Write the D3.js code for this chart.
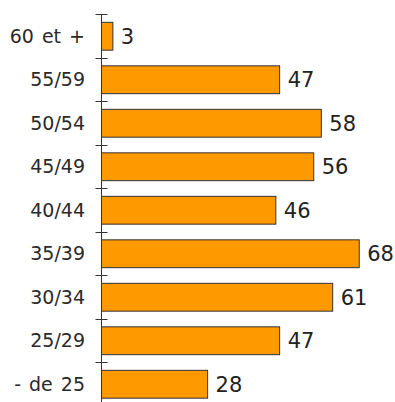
<!DOCTYPE html>
<html>
<head>
<meta charset="utf-8">
<script src="https://cdn.jsdelivr.net/npm/d3@7"></script>
<style>
  html, body { margin: 0; padding: 0; background: #fff; }
  svg { display: block; }
</style>
</head>
<body>
<svg id="chart" width="395" height="402"></svg>
<script>
const categories = ["60 et +", "55/59", "50/54", "45/49", "40/44", "35/39", "30/34", "25/29", "- de 25"];
const values = [3, 47, 58, 56, 46, 68, 61, 47, 28];

(function () {
const svg = d3.select("#chart");
const x0 = 101.5;
const x = d3.scaleLinear().domain([0, 70]).range([x0, x0 + 70 * 3.79]);
const yTop = 14;
const y = d3.scaleBand().domain(categories).range([yTop, 405.5]).paddingInner(0.36).paddingOuter(0.18);
const step = y.step();

// bars
svg.append("g").selectAll("rect").data(categories).join("rect")
  .attr("x", x(0))
  .attr("y", d => y(d) + 0.5)
  .attr("width", (d, i) => x(values[i]) - x(0))
  .attr("height", y.bandwidth())
  .attr("fill", "#FF9900")
  .attr("stroke", "#333")
  .attr("stroke-width", 1);

// axis line
svg.append("line")
  .attr("x1", x0).attr("x2", x0)
  .attr("y1", yTop).attr("y2", 402)
  .attr("stroke", "#333").attr("stroke-width", 1);

// ticks at band boundaries
const bounds = d3.range(categories.length + 1).map(i => yTop + i * step);
svg.append("g").selectAll("line").data(bounds).join("line")
  .attr("x1", x0 - 6).attr("x2", x0 + 6)
  .attr("y1", d => Math.round(d) + 0.5).attr("y2", d => Math.round(d) + 0.5)
  .attr("stroke", "#333").attr("stroke-width", 1);

// category labels
svg.append("g").selectAll("text").data(categories).join("text")
  .attr("x", 85)
  .attr("y", d => y(d) + y.bandwidth() / 2 + 1.5)
  .attr("text-anchor", "end")
  .attr("dominant-baseline", "middle")
  .attr("font-family", "DejaVu Sans, Verdana, sans-serif")
  .attr("font-size", 19)
  .attr("word-spacing", 2)
  .attr("fill", "#2a2a2a")
  .text(d => d);

// value labels
svg.append("g").selectAll("text").data(categories).join("text")
  .attr("x", (d, i) => x(values[i]) + 8)
  .attr("y", d => y(d) + y.bandwidth() / 2 + 2)
  .attr("dominant-baseline", "middle")
  .attr("font-family", "DejaVu Sans, Verdana, sans-serif")
  .attr("font-size", 21)
  .attr("fill", "#222")
  .text((d, i) => values[i]);
})();
</script>
</body>
</html>
